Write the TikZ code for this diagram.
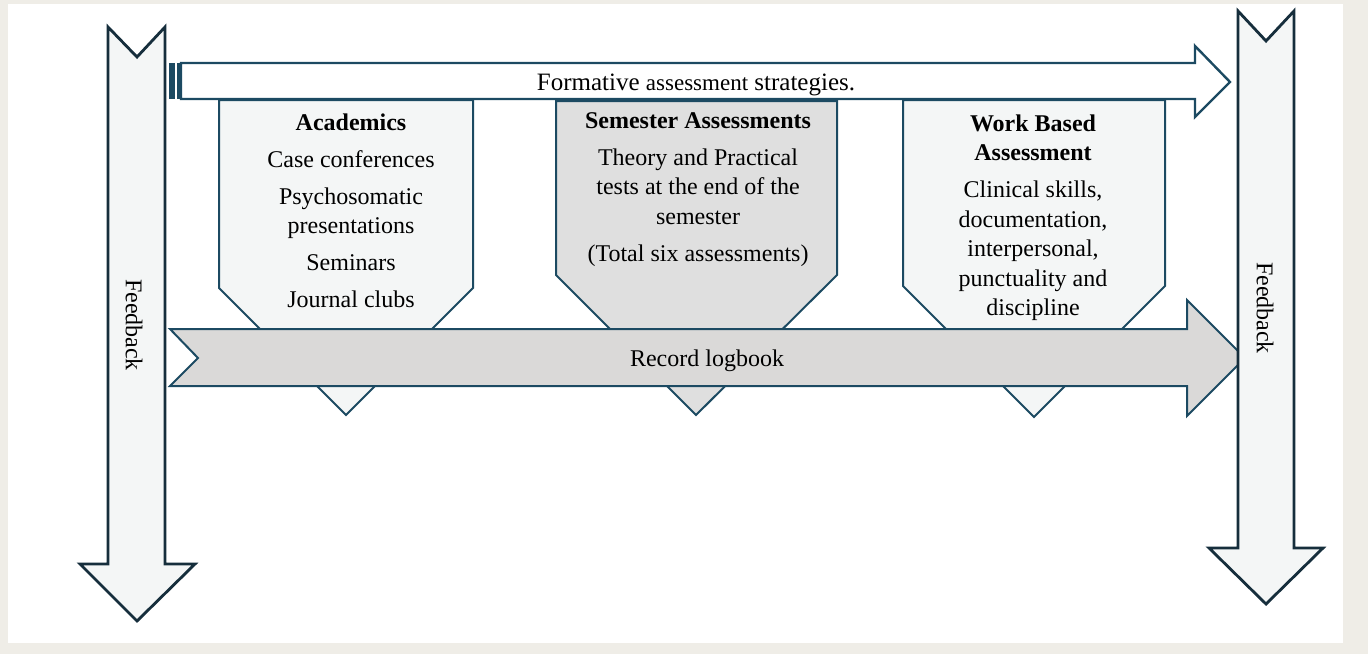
\documentclass[tikz,border=0pt]{standalone}
\usepackage{fontspec}
\setmainfont{Liberation Serif}
\definecolor{bgbeige}{RGB}{239,237,231}
\definecolor{edgeteal}{RGB}{28,74,98}
\definecolor{edgedark}{RGB}{22,46,60}
\definecolor{lightfill}{RGB}{244,246,246}
\definecolor{semfill}{RGB}{223,223,223}
\definecolor{logfill}{RGB}{218,217,216}
\tikzset{
  boxshape/.style={draw=edgeteal, line width=1pt, fill=lightfill, line join=miter},
  fbarrow/.style={draw=edgedark, line width=1.4pt, fill=lightfill, line join=miter},
  toparrow/.style={draw=edgeteal, line width=1.2pt, fill=white, line join=miter},
  logarrow/.style={draw=edgeteal, line width=1pt, fill=logfill, line join=miter},
  boxtext/.style={align=center, inner sep=0pt, font=\fontsize{12}{14.75}\selectfont},
  plaintext/.style={inner sep=0pt, font=\fontsize{12}{14.75}\selectfont},
}
\begin{document}
\begin{tikzpicture}[x=0.5pt, y=-0.5pt]
\useasboundingbox (0,0) rectangle (1368,654);
\fill[bgbeige] (0,0) rectangle (1368,654);
\fill[white] (8,4) rectangle (1343,643);

% top striped arrow
\fill[edgeteal] (169,63) rectangle (175,99);
\fill[edgeteal] (177,63) rectangle (179.5,99);
\draw[toparrow] (181,63) -- (1195,63) -- (1195,46) -- (1230,82) -- (1195,117) -- (1195,99) -- (181,99) -- cycle;
\node[plaintext, anchor=base, font=\fontsize{12.5}{15}\selectfont] (formative) at (696,90) {Formative {\fontsize{11.5}{13}\selectfont assessment} strategies.};

% three pentagon boxes
\draw[boxshape] (219,100) -- (473,100) -- (473,288) -- (346,415) -- (219,288) -- cycle;
\draw[boxshape, fill=semfill] (556,101) -- (837,101) -- (837,275) -- (696,415) -- (556,275) -- cycle;
\draw[boxshape] (903,100) -- (1165,100) -- (1165,286) -- (1034,417) -- (903,286) -- cycle;

\node[boxtext, anchor=north] (acad) at (351,113) {\textbf{Academics}\\[3.8pt] Case conferences\\[3.8pt] Psychosomatic\\ presentations\\[3.8pt] Seminars\\[3.8pt] Journal clubs};
\node[boxtext, anchor=north] (sem) at (698,112) {\textbf{Semester Assessments}\\[3.8pt] Theory and Practical\\ tests at the end of the\\ semester\\[3.8pt] (Total six assessments)};
\node[boxtext, anchor=north] (work) at (1033,114) {\textbf{Work Based}\\ \textbf{Assessment}\\[3.8pt] Clinical skills,\\ documentation,\\ interpersonal,\\ punctuality and\\ discipline};

% record logbook notched arrow
\draw[logarrow] (170,329) -- (1187,329) -- (1187,300) -- (1245,358) -- (1187,416) -- (1187,386) -- (170,386) -- (198,358) -- cycle;
\node[plaintext, anchor=base] (logbook) at (707,366) {Record logbook};

% feedback arrows
\draw[fbarrow] (108,27) -- (137,57) -- (165,27) -- (165,564) -- (195,564) -- (137,621) -- (80,564) -- (108,564) -- cycle;
\draw[fbarrow] (1238,11) -- (1266,41) -- (1294,11) -- (1294,548) -- (1323,548) -- (1266,604) -- (1209,548) -- (1238,548) -- cycle;
\node[plaintext, rotate=-90] (fbleft) at (134,325) {Feedback};
\node[plaintext, rotate=-90] (fbright) at (1265,308) {Feedback};
\end{tikzpicture}
\end{document}
